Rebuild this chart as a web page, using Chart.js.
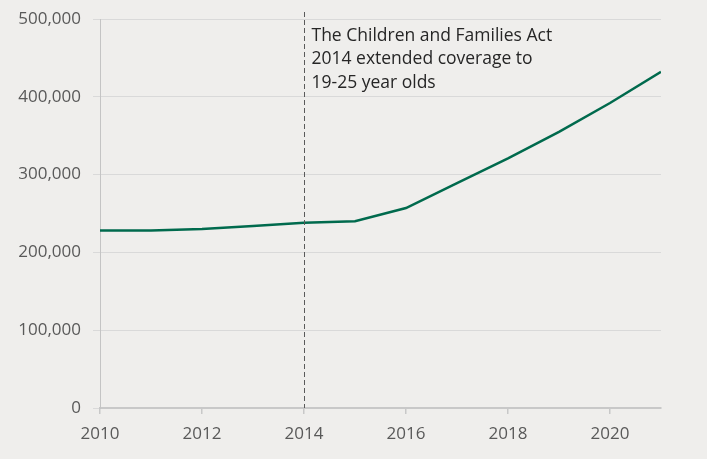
<!DOCTYPE html>
<html>
<head>
<meta charset="utf-8">
<script src="https://cdn.jsdelivr.net/npm/chart.js@4"></script>
<style>
html,body{margin:0;padding:0;background:#efeeec;}
#wrap{width:707px;height:459px;position:relative;}
</style>
</head>
<body>
<div id="wrap"><canvas id="c" width="707" height="459"></canvas></div>
<script>
const years = [2010, 2011, 2012, 2013, 2014, 2015, 2016, 2017, 2018, 2019, 2020, 2021];
const values = [228000, 228000, 230000, 234000, 238000, 240000, 257000, 289000, 321000, 355000, 392000, 432000];
const yTicks = [0, 100000, 200000, 300000, 400000, 500000];
const xTicks = [2010, 2012, 2014, 2016, 2018, 2020];
const markerYear = 2014;
const noteLines = ["The Children and Families Act", "2014 extended coverage to", "19-25 year olds"];

const FONT = "'Open Sans', 'Noto Sans', sans-serif";

const notePlugin = {
  id: 'note',
  afterDatasetsDraw(chart) {
    const ctx = chart.ctx;
    const xs = chart.scales.x, ys = chart.scales.y;
    const px = Math.round(xs.getPixelForValue(markerYear)) + 0.5;
    ctx.save();
    ctx.strokeStyle = '#5a5a5a';
    ctx.lineWidth = 1;
    ctx.setLineDash([5, 3]);
    ctx.beginPath();
    ctx.moveTo(px, chart.chartArea.top - 7);
    ctx.lineTo(px, ys.bottom);
    ctx.stroke();
    ctx.setLineDash([]);
    ctx.fillStyle = '#262626';
    ctx.font = "17.5px " + FONT;
    ctx.textBaseline = 'middle';
    ctx.textAlign = 'left';
    noteLines.forEach((t, i) => {
      ctx.fillText(t, px + 7, chart.chartArea.top + 17 + i * 23.5);
    });
    ctx.restore();
  }
};

new Chart(document.getElementById('c'), {
  type: 'line',
  data: {
    datasets: [{
      data: years.map((y, i) => ({x: y, y: values[i]})),
      borderColor: '#006a4d',
      borderWidth: 2.5,
      pointRadius: 0,
      tension: 0,
      fill: false
    }]
  },
  options: {
    responsive: false,
    animation: false,
    devicePixelRatio: 1,
    layout: {padding: {top: 19, right: 46, left: 0, bottom: 0}},
    plugins: {legend: {display: false}, tooltip: {enabled: false}},
    scales: {
      x: {
        type: 'linear',
        min: 2010,
        max: 2021,
        afterBuildTicks(scale) { scale.ticks = xTicks.map(v => ({value: v})); },
        afterFit(scale) { scale.height = 51; },
        ticks: {
          color: '#595959',
          font: {family: FONT, size: 17},
          padding: 10,
          maxRotation: 0,
          callback: v => String(v)
        },
        grid: {drawOnChartArea: false, drawTicks: true, tickLength: 6, color: '#c8c8c8', lineWidth: 1.5},
        border: {color: '#c8c8c8', width: 2}
      },
      y: {
        min: 0,
        max: 500000,
        afterBuildTicks(scale) { scale.ticks = yTicks.map(v => ({value: v})); },
        afterFit(scale) { scale.width = 100; scale.paddingTop = 0; scale.paddingBottom = 0; },
        ticks: {
          color: '#595959',
          font: {family: FONT, size: 17},
          padding: 12,
          callback: v => v.toLocaleString('en-US')
        },
        grid: {color: '#d9d9d9', lineWidth: 1, tickLength: 7},
        border: {color: '#c4c4c4', width: 1}
      }
    }
  },
  plugins: [notePlugin]
});
</script>
</body>
</html>
